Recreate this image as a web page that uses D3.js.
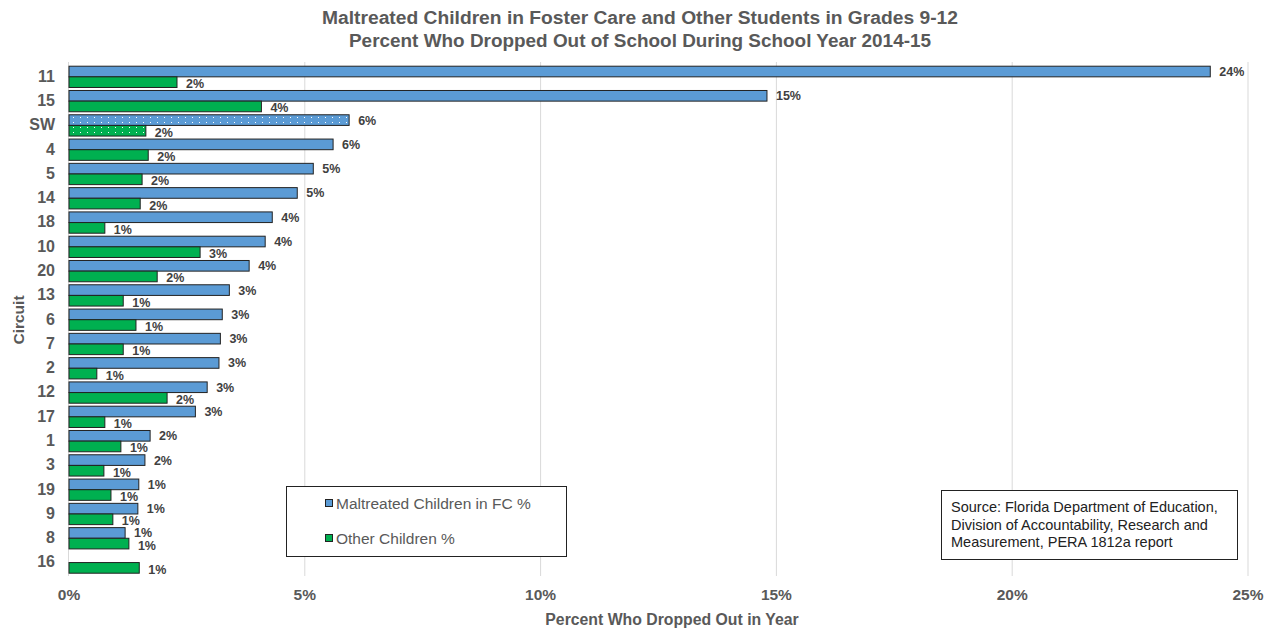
<!DOCTYPE html>
<html><head><meta charset="utf-8">
<script src="https://cdn.jsdelivr.net/npm/d3@7"></script>
<style>
body{margin:0;background:#fff;}
svg{display:block;font-family:"Liberation Sans",Arial,sans-serif;}
</style></head>
<body><svg id="c" width="1275" height="629"></svg>
<script>
const circuits = ["11","15","SW","4","5","14","18","10","20","13","6","7","2","12","17","1","3","19","9","8","16"];
const fcPct    = [24.2,14.8,5.94,5.6,5.18,4.84,4.31,4.16,3.82,3.40,3.25,3.21,3.18,2.93,2.68,1.72,1.61,1.48,1.46,1.19,null];
const otherPct = [2.29,4.08,1.63,1.68,1.55,1.51,0.76,2.78,1.87,1.15,1.42,1.15,0.59,2.08,0.76,1.10,0.74,0.89,0.93,1.27,1.49];
const xTicks = [0,5,10,15,20,25];
const seriesNames = ["Maltreated Children in FC %","Other Children %"];
const titleLines = ["Maltreated Children in Foster Care and Other Students in Grades 9-12","Percent Who Dropped Out of School During School Year 2014-15"];
const sourceLines = ["Source: Florida Department of Education,","Division of Accountability, Research and","Measurement, PERA 1812a report"];

const colors = {fc:"#5b9bd5", other:"#00b050"};
const svg = d3.select("#c");
const defs = svg.append("defs");
function dotPattern(id, color){
  const p = defs.append("pattern").attr("id",id).attr("patternUnits","userSpaceOnUse").attr("width",7).attr("height",5);
  p.append("rect").attr("width",7).attr("height",5).attr("fill",color);
  p.append("rect").attr("x",3).attr("y",2).attr("width",1).attr("height",1).attr("fill","#fff");
}
dotPattern("dotfc", colors.fc);
dotPattern("dotother", colors.other);

const x = d3.scaleLinear().domain([0,25]).range([69,1248]);
const y = d3.scaleBand().domain(circuits).range([64,574]);
const y1 = d3.scaleBand().domain(["fc","other"]).range([2.2, y.bandwidth()-0.8]);

// gridlines
svg.append("g").selectAll("line").data(xTicks.filter(t=>t>0)).join("line")
  .attr("x1",d=>x(d)).attr("x2",d=>x(d)).attr("y1",62).attr("y2",576)
  .attr("stroke","#d9d9d9").attr("stroke-width",1);
svg.append("line").attr("x1",x(0)-0.5).attr("x2",x(0)-0.5).attr("y1",62).attr("y2",576).attr("stroke","#d9d9d9");

const rows = circuits.map((c,i)=>({c, fc:fcPct[i], other:otherPct[i]}));
const g = svg.append("g");
["fc","other"].forEach(s=>{
  const data = rows.filter(d=>d[s]!=null);
  g.selectAll("rect."+s).data(data).join("rect").attr("class",s)
    .attr("x",x(0)).attr("y",d=>y(d.c)+y1(s))
    .attr("width",d=>x(d[s])-x(0)).attr("height",y1.bandwidth())
    .attr("fill",d=>d.c==="SW" ? `url(#dot${s})` : colors[s])
    .attr("stroke","#222").attr("stroke-width",1);
  g.selectAll("text."+s).data(data).join("text").attr("class",s)
    .attr("x",d=>x(d[s])+9).attr("y",d=>y(d.c)+y1(s)+y1.bandwidth()/2 + (s==="other"?6:4.5))
    .attr("font-size",12.5).attr("font-weight","bold").attr("fill","#404040")
    .text(d=>d3.format(".0f")(d[s])+"%");
});

// y labels
svg.append("g").selectAll("text").data(circuits).join("text")
  .attr("x",55).attr("y",d=>y(d)+y.bandwidth()/2+5.5).attr("text-anchor","end")
  .attr("font-size",16).attr("font-weight","bold").attr("fill","#595959").text(d=>d);
svg.append("text").attr("transform","translate(24,320) rotate(-90)").attr("text-anchor","middle")
  .attr("font-size",15.5).attr("font-weight","bold").attr("fill","#595959").text("Circuit");

// x axis
svg.append("g").selectAll("text").data(xTicks).join("text")
  .attr("x",d=>x(d)).attr("y",600).attr("text-anchor","middle")
  .attr("font-size",15.5).attr("font-weight","bold").attr("fill","#595959").text(d=>d+"%");
svg.append("text").attr("x",672).attr("y",625).attr("text-anchor","middle")
  .attr("font-size",15.8).attr("font-weight","bold").attr("fill","#595959").text("Percent Who Dropped Out in Year");

// title
const titleW = [636, 582];
svg.append("g").selectAll("text").data(titleLines).join("text")
  .attr("x",640).attr("y",(d,i)=>24+i*23).attr("text-anchor","middle")
  .attr("textLength",(d,i)=>titleW[i]).attr("lengthAdjust","spacingAndGlyphs")
  .attr("font-size",18).attr("font-weight","bold").attr("fill","#595959").text(d=>d);

// legend
const lg = svg.append("g");
lg.append("rect").attr("x",286.5).attr("y",486.5).attr("width",280).attr("height",70).attr("fill","#fff").attr("stroke","#222");
seriesNames.forEach((n,i)=>{
  const yy = 503 + i*35;
  lg.append("rect").attr("x",325.5).attr("y",yy-3.5).attr("width",7).attr("height",7)
    .attr("fill",i===0?colors.fc:colors.other).attr("stroke","#222");
  lg.append("text").attr("x",336).attr("y",yy+5.5).attr("font-size",15.5).attr("fill","#595959").text(n);
});

// source box
const sb = svg.append("g");
sb.append("rect").attr("x",941.5).attr("y",490.5).attr("width",296).attr("height",69).attr("fill","#fff").attr("stroke","#222");
sourceLines.forEach((t,i)=>{
  sb.append("text").attr("x",951).attr("y",512+i*17.5).attr("font-size",14.5).attr("fill","#222").text(t);
});
</script></body></html>
